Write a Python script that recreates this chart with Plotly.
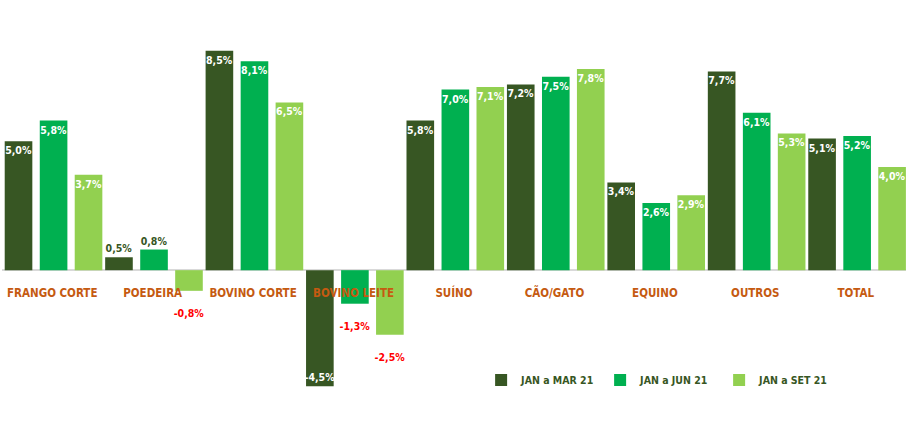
import plotly.graph_objects as go

categories = ["FRANGO CORTE", "POEDEIRA", "BOVINO CORTE", "BOVINO LEITE", "SUÍNO",
              "CÃO/GATO", "EQUINO", "OUTROS", "TOTAL"]
series_names = ["JAN a MAR 21", "JAN a JUN 21", "JAN a SET 21"]
mar21 = [5.0, 0.5, 8.5, -4.5, 5.8, 7.2, 3.4, 7.7, 5.1]
jun21 = [5.8, 0.8, 8.1, -1.3, 7.0, 7.5, 2.6, 6.1, 5.2]
set21 = [3.7, -0.8, 6.5, -2.5, 7.1, 7.8, 2.9, 5.3, 4.0]
colors = ["#375623", "#00B050", "#92D050"]
bar_offsets = [-0.473, -0.124, 0.224]
BAR_W = 0.275

FONT = "DejaVu Sans Condensed, Liberation Sans Narrow, sans-serif"

def fmt(v):
    return f"{v:.1f}".replace(".", ",") + "%"

fig = go.Figure()
for name, vals, col, off in zip(series_names, [mar21, jun21, set21], colors, bar_offsets):
    pos, tcol, txt = [], [], []
    for v in vals:
        if v >= 2:
            pos.append("inside"); tcol.append("white"); txt.append(fmt(v))
        elif v >= 0:
            pos.append("outside"); tcol.append("#375623"); txt.append(fmt(v))
        elif v > -3:
            pos.append("outside"); tcol.append("#FF0000"); txt.append(" <br>" + fmt(v))
        else:
            pos.append("inside"); tcol.append("white"); txt.append(fmt(v))
    fig.add_trace(go.Bar(
        x=categories, y=vals, name=name,
        offset=off, width=BAR_W,
        marker=dict(color=col, line=dict(width=0)),
        text=txt, textposition=pos, textangle=0,
        insidetextanchor="end",
        textfont=dict(family=FONT, size=10.5, color=tcol, weight="bold"),
        constraintext="none", cliponaxis=False,
    ))

fig.update_layout(
    barmode="group",
    width=908, height=429,
    margin=dict(l=2, r=2, t=0, b=4, autoexpand=False),
    paper_bgcolor="white", plot_bgcolor="white",
    font=dict(family=FONT),
    showlegend=True,
    legend=dict(orientation="h", x=0.53, y=0.106, xanchor="left", yanchor="middle",
                font=dict(family=FONT, size=10.5, color="#375623", weight="bold"),
                entrywidth=74, entrywidthmode="pixels",
                bgcolor="rgba(0,0,0,0)", itemwidth=30, traceorder="normal"),
    xaxis=dict(anchor="free", position=(425 - 270.2) / 425, showline=False, ticks="",
               tickangle=0, automargin=False, range=[-0.5, 8.5],
               tickfont=dict(family=FONT, size=11.5, color="#C55A11", weight="bold"),
               ticklabelstandoff=14, showgrid=False, fixedrange=True),
    yaxis=dict(range=[-6, 10.47], showticklabels=False, showgrid=False, automargin=False,
               zeroline=True, zerolinecolor="#D9D9D9", zerolinewidth=1.5),
)

fig.write_html("out.html", config={"displayModeBar": False},
               post_script="document.body.style.margin='0';document.body.style.overflow='hidden';")
